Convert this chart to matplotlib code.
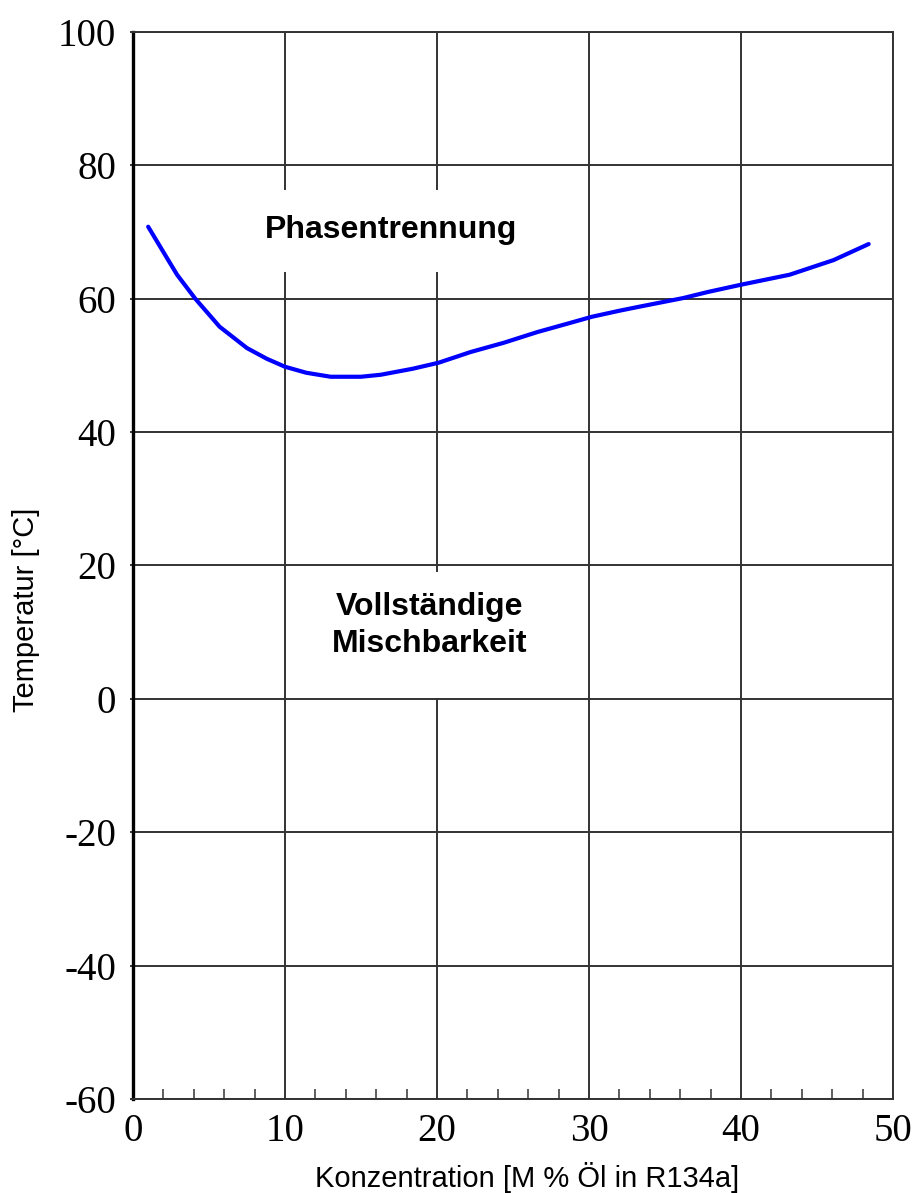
import matplotlib
matplotlib.use("Agg")
import matplotlib.pyplot as plt
from matplotlib.patches import Rectangle
from matplotlib.ticker import FixedLocator

plt.rcParams['axes.unicode_minus'] = False

konz = [1.0, 2.0, 2.9, 4.1, 5.7, 7.5, 8.8, 10.0, 11.4, 13.0, 15.0, 16.3, 18.4, 20.1,
        22.2, 24.4, 26.6, 28.8, 30.2, 32.0, 33.3, 36.2, 37.8, 40.0, 43.2, 46.1, 48.4]
temp = [70.8, 67.0, 63.6, 60.0, 55.8, 52.6, 51.0, 49.8, 48.9, 48.3, 48.3, 48.6, 49.5, 50.4,
        52.0, 53.4, 55.0, 56.4, 57.3, 58.2, 58.8, 60.1, 61.0, 62.1, 63.6, 65.8, 68.2]
x_ticks = [0, 10, 20, 30, 40, 50]
y_ticks = [-60, -40, -20, 0, 20, 40, 60, 80, 100]
x_minor = [2, 4, 6, 8, 12, 14, 16, 18, 22, 24, 26, 28, 32, 34, 36, 38, 42, 44, 46, 48]

fig = plt.figure(figsize=(9.19, 11.93), dpi=100)
ax = fig.add_axes([0.1447, 0.0788, 0.827, 0.8944])
ax.set_xlim(0, 50)
ax.set_ylim(-60, 100)
ax.set_axisbelow(True)

ax.grid(True, which='major', color='#333333', linewidth=1.4)
ax.plot(konz, temp, color='#0000ff', linewidth=3.0, zorder=3, solid_capstyle='round',
        solid_joinstyle='round')

ax.set_xticks(x_ticks)
ax.set_yticks(y_ticks)
ax.xaxis.set_minor_locator(FixedLocator(x_minor))
ax.tick_params(axis='x', which='major', length=0, pad=10)
ax.tick_params(axis='x', which='minor', direction='in', length=7, width=1.1, color='#333333')
ax.tick_params(axis='y', which='major', direction='out', length=2, width=1.1, pad=10)
for lab in ax.get_xticklabels() + ax.get_yticklabels():
    lab.set_fontfamily('Liberation Serif')
    lab.set_fontsize(28)
    lab.set_color('black')

for side in ['top', 'right', 'bottom']:
    ax.spines[side].set_linewidth(1.4)
    ax.spines[side].set_color('#333333')
ax.spines['left'].set_linewidth(2.4)
ax.spines['left'].set_color('black')

# white boxes behind labels
ax.add_patch(Rectangle((7.7, 64.0), 19.0, 12.3, facecolor='white', edgecolor='none', zorder=1))
ax.add_patch(Rectangle((12.6, 0.2), 14.5, 18.8, facecolor='white', edgecolor='none', zorder=1))

ax.text(17.0, 70.3, 'Phasentrennung', fontfamily='Liberation Sans', fontweight='bold',
        fontsize=23, ha='center', va='center', zorder=4)
ax.text(19.5, 11.05, 'Vollständige\nMischbarkeit', fontfamily='Liberation Sans', fontweight='bold',
        fontsize=23, ha='center', va='center', linespacing=1.3, zorder=4)

ax.set_xlabel('Konzentration [M % Öl in R134a]', fontfamily='Liberation Sans', fontsize=21)
ax.set_ylabel('Temperatur [°C]', fontfamily='Liberation Sans', fontsize=21)
ax.xaxis.set_label_coords(0.518, -0.059)
ax.yaxis.set_label_coords(-0.122, 0.458)

fig.savefig('out.png', dpi=100)
